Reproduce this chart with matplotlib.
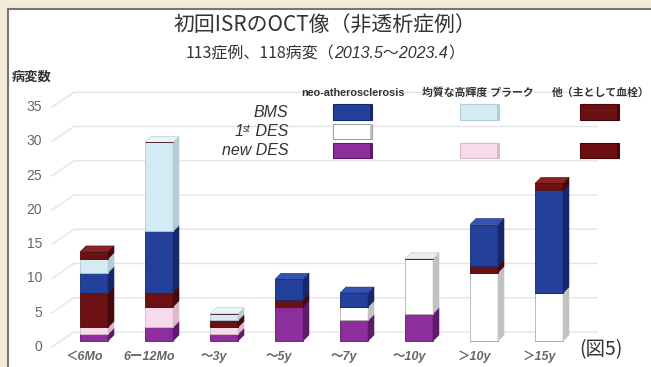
import matplotlib
matplotlib.use('Agg')
import matplotlib.pyplot as plt
from matplotlib.patches import Polygon, Rectangle

# data (lesion counts per time-from-stenting group)
categories = ['＜6Mo', '6ー12Mo', '〜3y', '〜5y', '〜7y', '〜10y', '＞10y', '＞15y']
newdes_neo = [1, 2, 1, 5, 3, 4, 0, 0]
newdes_homog = [1, 3, 1, 0, 0, 0, 0, 0]
newdes_other = [5, 2, 1, 1, 0, 0, 0, 0]
des1_neo = [0, 0, 0, 0, 2, 8, 10, 7]
des1_other = [0, 0, 0, 0, 0, 0, 1, 0]
bms_neo = [3, 9, 0, 3, 2, 0, 6, 15]
bms_homog = [2, 13, 1, 0, 0, 0, 0, 0]
bms_other = [1, 0, 0, 0, 0, 0, 0, 1]
yticks = [0, 5, 10, 15, 20, 25, 30, 35]
col_headers = ['neo-atherosclerosis', '均質な高輝度 プラーク', '他（主として血栓）']

# colours: (front, side, top)
PURPLE = ('#8d2e9d', '#5e1b6a', '#a64ab6')
PINK = ('#f7dbea', '#d9b9ca', '#fbebf4')
DRED = ('#6c1014', '#45090b', '#8a2226')
WHITE = ('#ffffff', '#c2c2c2', '#ececec')
BLUE = ('#23409b', '#16286a', '#3553b2')
LBLUE = ('#d5ebf4', '#b5ccd7', '#e7f4f9')

series = [(newdes_neo, PURPLE), (newdes_homog, PINK), (newdes_other, DRED),
          (des1_neo, WHITE), (des1_other, DRED),
          (bms_neo, BLUE), (bms_homog, LBLUE), (bms_other, DRED)]

CJK = ['Noto Sans CJK JP', 'DejaVu Sans']
LAT = ['Liberation Sans', 'Noto Sans CJK JP']

W, H = 651, 367
fig = plt.figure(figsize=(W / 100, H / 100), dpi=100)
fig.patch.set_facecolor('#f3ead9')
r = fig.canvas.get_renderer()


def fx(px):
    return px / W


def fy(py):
    return 1 - py / H


# white panel with grey border on left/top
fig.add_artist(Rectangle((fx(8), -0.05), 1.1, fy(9) + 0.05, transform=fig.transFigure,
                         facecolor='white', edgecolor='#767676', lw=1.5, zorder=0))

# axes in the plane of the bar fronts
PX, PY = 65.0, 6.85
ax = fig.add_axes([0, 0, 1, 1])
ax.set_xlim(-94 / PX, (W - 94) / PX)
ax.set_ylim((341 - H) / PY, 341 / PY)
ax.axis('off')
ax.patch.set_alpha(0)

wall_left = -42 / PX
wall_right = 503 / PX
dep_x, dep_y = 22 / PX, 15 / PY
front_dy = -6 / PY
for v in yticks:
    y0 = v + front_dy
    ax.plot([wall_left, wall_left + dep_x, wall_right],
            [y0, y0 + dep_y, y0 + dep_y], color='#e4e4e4', lw=1.0, zorder=1)
    ax.text(wall_left - 10 / PX, y0, str(v), ha='right', va='center',
            fontsize=10, color='#666666', family=LAT)

# pseudo-3D stacked bars
bw = 28 / PX
ddx, ddy = 6 / PX, 6 / PY
x = list(range(len(categories)))
bottom = [0] * len(categories)
for k, (vals, (cf, cs, ct)) in enumerate(series):
    ec = '#b0b0b0' if cf == '#ffffff' else cs
    ax.bar(x, vals, width=bw, bottom=bottom, color=cf, edgecolor=ec,
           linewidth=0.6, zorder=10 + 2 * k)
    for i, h in enumerate(vals):
        if h <= 0:
            continue
        b = bottom[i]
        xl, xr = i - bw / 2, i + bw / 2
        ax.add_patch(Polygon([(xr, b), (xr + ddx, b + ddy), (xr + ddx, b + h + ddy), (xr, b + h)],
                             closed=True, facecolor=cs, edgecolor=cs, lw=0.4, zorder=10 + 2 * k))
        ax.add_patch(Polygon([(xl, b + h), (xl + ddx, b + h + ddy), (xr + ddx, b + h + ddy), (xr, b + h)],
                             closed=True, facecolor=ct, edgecolor=cs, lw=0.4, zorder=11 + 2 * k))
    bottom = [b + v for b, v in zip(bottom, vals)]

for i, lab in enumerate(categories):
    ax.text(i - 10 / PX, (341 - 357) / PY, lab, ha='center', va='center', fontsize=9,
            color='#666666', style='italic', weight='bold', family=LAT)

# titles
fig.text(fx(325), fy(26), '初回ISRのOCT像（非透析症例）', ha='center', va='center',
         fontsize=15, color='#333333', family=CJK)
parts = [fig.text(0, fy(54), '113症例、118病変（', fontsize=11.5, color='#333333', family=CJK,
                  va='center'),
         fig.text(0, fy(54), '2013.5〜2023.4', fontsize=11.5, color='#333333', style='italic',
                  family=LAT, va='center'),
         fig.text(0, fy(54), '）', fontsize=11.5, color='#333333', family=CJK, va='center')]
widths = [p.get_window_extent(r).width for p in parts]
xpos = 325 - sum(widths) / 2
for p, w in zip(parts, widths):
    p.set_x(fx(xpos))
    xpos += w

fig.text(fx(12), fy(77), '病変数', ha='left', va='center', fontsize=9.5, weight='bold',
         color='#333333', family=CJK)

# legend table
col_x = [353, 478, 601]
for cx, txt in zip(col_x, col_headers):
    fig.text(fx(cx), fy(93), txt, ha='center', va='center', fontsize=7.8, weight='bold',
             color='#333333', family=LAT)
row_y = [112, 131, 150]
lab_kw = dict(style='italic', color='#333333', family=LAT)
fig.text(fx(288), fy(row_y[0]), 'BMS', ha='right', va='center', fontsize=11.5, **lab_kw)
fig.text(fx(288), fy(row_y[2]), 'new DES', ha='right', va='center', fontsize=11.5, **lab_kw)
# "1st DES" with superscript, right-aligned like the other rows
t_des = fig.text(fx(288), fy(row_y[1]), ' DES', ha='right', va='center', fontsize=11.5, **lab_kw)
x_des = t_des.get_window_extent(r).x0
t_st = fig.text(x_des / W, fy(row_y[1] + 3), 'st', ha='right', va='bottom', fontsize=7, **lab_kw)
x_st = t_st.get_window_extent(r).x0
fig.text(x_st / W, fy(row_y[1]), '1', ha='right', va='center', fontsize=11.5, **lab_kw)

swatches = [[BLUE, LBLUE, DRED], [WHITE, None, None], [PURPLE, PINK, DRED]]
sw_x = [333, 460, 580]
for ry, row in zip(row_y, swatches):
    for sx, c in zip(sw_x, row):
        if c is None:
            continue
        ec = '#a0a0a0' if c[0] == '#ffffff' else c[1]
        fig.add_artist(Rectangle((fx(sx), fy(ry + 7.5)), 39 / W, 15 / H, transform=fig.transFigure,
                                 facecolor=c[0], edgecolor=ec, lw=0.8, zorder=5))
        fig.add_artist(Rectangle((fx(sx + 37), fy(ry + 7.5)), 2 / W, 15 / H, transform=fig.transFigure,
                                 facecolor=c[1], edgecolor='none', zorder=6))

fig.text(fx(601), fy(350), '(図5)', ha='center', va='center', fontsize=14,
         color='#333333', family=CJK)

fig.savefig('out.png', dpi=100, facecolor=fig.get_facecolor())
